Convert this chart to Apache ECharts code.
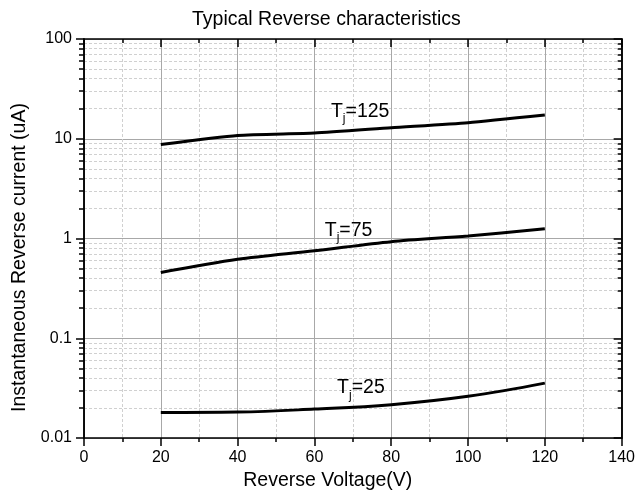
<!DOCTYPE html>
<html><head><meta charset="utf-8">
<script src="https://cdn.jsdelivr.net/npm/echarts@6/dist/echarts.min.js"></script>
<style>html,body{margin:0;padding:0;background:#fff}#c{width:638px;height:496px}</style>
</head><body><div id="c"></div>
<script>
// ---- data ----
const voltage = [20, 40, 60, 80, 100, 120];
const tj125 = [8.75, 10.8, 11.4, 12.9, 14.5, 17.3];
const tj75 = [0.456, 0.618, 0.752, 0.93, 1.06, 1.25];
const tj25 = [0.0180, 0.0182, 0.0195, 0.0216, 0.0262, 0.0355];
const seriesNames = ['125', '75', '25'];
const yMinor = [0.02,0.03,0.04,0.05,0.06,0.07,0.08,0.09,
                0.2,0.3,0.4,0.5,0.6,0.7,0.8,0.9,
                2,3,4,5,6,7,8,9,
                20,30,40,50,60,70,80,90];
const titleText = 'Typical Reverse characteristics';
const xName = 'Reverse Voltage(V)';
const yName = 'Instantaneous Reverse current (uA)';

const FONT = 'Liberation Sans, Arial, sans-serif';
const chart = echarts.init(document.getElementById('c'), null, {renderer: 'canvas'});
const pts = arr => voltage.map((v, i) => [v, arr[i]]);
const axisLine = {show: true, lineStyle: {color: '#000', width: 1.5}};
const majorGrid = {show: true, lineStyle: {color: '#a8a8a8', width: 1}};
const minorGrid = {show: true, lineStyle: {color: '#d0d0d0', width: 1, type: [3, 2]}};

function lbl(name, x, y) {
  return {
    symbolSize: 0,
    data: [{coord: [x, y]}],
    label: {
      show: true, position: 'right', distance: 0,
      formatter: '{a|T}{b|j}{a|=' + name + '}',
      rich: {
        a: {fontSize: 19.5, fontFamily: FONT, color: '#000'},
        b: {fontSize: 12, fontFamily: FONT, color: '#000', padding: [15, 0, 0, 0]}
      }
    }
  };
}
const lineStyle = {color: '#000', width: 3};
const baseX = {type: 'value', min: 0, max: 140, interval: 20};
const baseY = {type: 'log', logBase: 10, min: 0.01, max: 100};

chart.setOption({
  animation: false,
  backgroundColor: '#fff',
  title: {text: titleText, left: 192, top: 10, padding: 0,
          textStyle: {fontSize: 19.5, fontWeight: 'normal', fontFamily: FONT, color: '#000'}},
  grid: {left: 84, right: 14, top: 39, bottom: 55, containLabel: false},
  xAxis: [
    Object.assign({}, baseX, {
      position: 'bottom', name: xName, nameLocation: 'middle', nameGap: 33,
      nameTextStyle: {fontSize: 19.5, fontFamily: FONT, color: '#000', padding: [0, 50, 0, 0]},
      axisLine: axisLine,
      axisTick: {show: true, inside: false, length: 8, lineStyle: {color: '#000', width: 1.5}},
      minorTick: {show: true, splitNumber: 2, length: 4, lineStyle: {color: '#000', width: 1.5}},
      axisLabel: {fontSize: 16, fontFamily: FONT, color: '#000', margin: 12},
      splitLine: majorGrid, minorSplitLine: minorGrid
    }),
    Object.assign({}, baseX, {
      position: 'top',
      axisLine: axisLine,
      axisTick: {show: true, inside: true, length: 8, lineStyle: {color: '#000', width: 1.5}},
      minorTick: {show: true, splitNumber: 2, length: 4, lineStyle: {color: '#000', width: 1.5}},
      axisLabel: {show: false}, splitLine: {show: false}
    })
  ],
  yAxis: [
    Object.assign({}, baseY, {
      position: 'left', name: yName, nameLocation: 'middle', nameGap: 53, nameRotate: 90,
      nameTextStyle: {fontSize: 19.5, fontFamily: FONT, color: '#000', padding: [0, 38, 0, 0]},
      axisLine: axisLine,
      axisTick: {show: true, inside: false, length: 8, lineStyle: {color: '#000', width: 1.5}},
      axisLabel: {fontSize: 16, fontFamily: FONT, color: '#000', margin: 12, formatter: v => String(+v.toPrecision(6))},
      splitLine: majorGrid
    }),
    Object.assign({}, baseY, {
      position: 'left',
      axisLine: axisLine,
      axisTick: {show: true, inside: false, length: 5, customValues: yMinor, lineStyle: {color: '#000', width: 1.5}},
      axisLabel: {show: false},
      splitLine: minorGrid
    }),
    Object.assign({}, baseY, {
      position: 'right',
      axisLine: axisLine,
      axisTick: {show: true, inside: true, length: 8, lineStyle: {color: '#000', width: 1.5}},
      axisLabel: {show: false}, splitLine: {show: false}
    }),
    Object.assign({}, baseY, {
      position: 'right',
      axisLine: axisLine,
      axisTick: {show: true, inside: true, length: 4, customValues: yMinor, lineStyle: {color: '#000', width: 1.5}},
      axisLabel: {show: false}, splitLine: {show: false}
    })
  ],
  series: [
    {type: 'line', name: seriesNames[0], data: pts(tj125), showSymbol: false, smooth: 0.2, lineStyle: lineStyle, z: 5,
     markPoint: lbl(seriesNames[0], 64.3, 18.9)},
    {type: 'line', name: seriesNames[1], data: pts(tj75), showSymbol: false, smooth: 0.3, lineStyle: lineStyle, z: 5,
     markPoint: lbl(seriesNames[1], 62.7, 1.21)},
    {type: 'line', name: seriesNames[2], data: pts(tj25), showSymbol: false, smooth: 0.4, lineStyle: lineStyle, z: 5,
     markPoint: lbl(seriesNames[2], 65.9, 0.0318)}
  ]
});
</script></body></html>
